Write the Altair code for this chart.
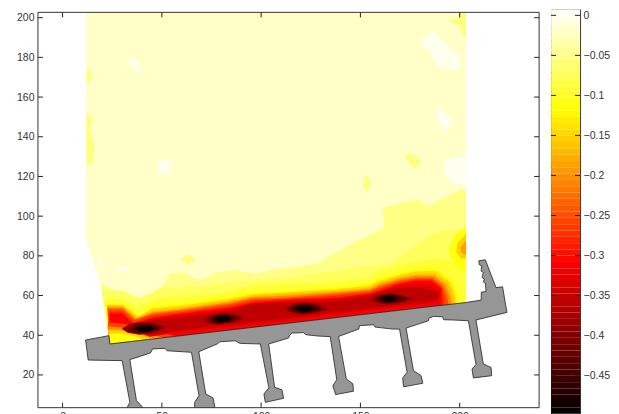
import altair as alt
import pandas as pd

# Contour regions, in plot units: (value, x list, y list), painted from back to front
field_x = [11.7, 11.7, 12.7, 15.2, 18.8, 23.4, 23.8, 203.2, 203.2]
field_y = [202.7, 90.0, 86.0, 77.5, 67.4, 39.8, 35.6, 56.5, 202.7]

w1_x = [32.7, 36.4, 40.5, 37.2, 34.7]
w1_y = [179.7, 179.7, 173.4, 172.1, 175.5]
w2_x = [48.1, 54.0, 54.0, 48.1]
w2_y = [128.1, 128.1, 121.4, 121.4]
w3_x = [179.7, 187.3, 194.8, 200.7, 199.8, 189.8, 183.9]
w3_y = [188.9, 193.1, 184.7, 180.5, 173.9, 174.7, 183.1]
w4_x = [187.3, 191.5, 196.8, 193.1, 189.8]
w4_y = [154.2, 153.7, 147.9, 142.5, 147.0]
w5_x = [191.8, 194.8, 203.2, 203.2, 196.5, 192.3]
w5_y = [127.8, 129.4, 130.3, 116.0, 116.3, 121.1]
w6_x = [26.8, 31.3, 34.7, 31.3, 27.2]
w6_y = [74.1, 74.9, 73.8, 72.4, 72.8]
w7_x = [18.8, 19.9, 20.1, 18.8]
w7_y = [78.3, 78.3, 72.8, 73.3]

y1_x = [12.4, 14.6, 14.9, 12.9, 12.1]
y1_y = [173.9, 173.0, 168.8, 167.1, 168.0]
y2_x = [12.1, 15.4, 13.7, 15.9, 15.4, 12.4, 12.1]
y2_y = [152.0, 148.7, 144.5, 136.1, 127.8, 125.2, 132.8]
y3_x = [172.2, 175.5, 180.6, 177.2]
y3_y = [130.3, 131.9, 127.8, 123.6]
y4_x = [152.1, 154.1, 155.1, 153.4, 151.6]
y4_y = [120.2, 120.2, 116.0, 111.3, 115.2]
y5_x = [59.0, 63.2, 67.4, 63.2]
y5_y = [78.3, 80.5, 78.3, 75.5]
y6_x = [193.9, 199.0, 200.7, 203.2, 203.2, 199.8]
y6_y = [199.0, 199.8, 202.7, 202.7, 188.1, 195.6]

l1_x = [19.1, 27.2, 42.3, 48.1, 54.0, 60.7, 69.1, 77.5, 87.5, 97.6, 109.3, 116.8, 128.4, 133.4, 148.5, 162.1, 161.3, 178.7, 183.7, 200.8, 203.2, 203.2, 23.8]
l1_y = [66.1, 62.4, 58.2, 61.5, 70.8, 71.6, 67.4, 71.6, 72.8, 70.8, 73.8, 74.1, 76.0, 79.1, 87.5, 94.2, 104.3, 108.5, 105.1, 113.5, 112.7, 56.5, 35.6]
l1b_x = [19.8, 30.3, 38.9, 48.9, 69.1, 94.2, 119.4, 144.5, 166.1, 173.7, 185.8, 195.8, 203.2, 203.2, 23.8]
l1b_y = [62.4, 62.4, 58.4, 63.4, 64.9, 67.4, 69.9, 73.5, 76.5, 82.5, 91.0, 93.6, 92.6, 56.5, 35.6]
l2_x = [21.3, 30.3, 37.9, 48.9, 59.0, 79.1, 95.7, 112.8, 129.4, 154.6, 159.6, 168.2, 179.7, 191.3, 197.3, 203.2, 203.2, 23.8]
l2_y = [58.4, 58.4, 53.8, 58.9, 59.9, 60.9, 64.9, 65.9, 66.4, 68.4, 72.4, 75.0, 77.5, 78.5, 76.5, 78.5, 56.5, 35.6]
h1_x = [203.2, 197.3, 194.3, 197.3, 203.2]
h1_y = [95.1, 90.0, 82.5, 75.0, 72.4]
h2_x = [203.2, 198.8, 198.3, 200.8, 203.2]
h2_y = [91.0, 86.5, 81.5, 78.5, 78.5]
h3_x = [203.2, 200.4, 200.8, 203.2]
h3_y = [87.5, 84.5, 81.5, 80.5]
l3_x = [22.3, 30.3, 38.9, 45.4, 59.0, 79.1, 95.7, 112.8, 138.0, 154.6, 159.6, 169.7, 178.2, 188.3, 196.3, 198.8, 199.8, 23.8]
l3_y = [55.9, 55.9, 49.8, 54.9, 55.9, 58.4, 61.4, 62.4, 63.9, 65.9, 68.4, 71.4, 73.4, 73.4, 67.4, 61.4, 56.1, 35.6]
l3b_x = [22.3, 30.3, 38.2, 45.4, 59.0, 81.6, 95.7, 112.8, 138.0, 154.6, 159.6, 169.7, 178.2, 187.8, 195.0, 197.6, 198.5, 23.8]
l3b_y = [55.4, 55.4, 49.3, 53.6, 54.9, 57.9, 60.7, 61.7, 63.2, 64.9, 67.4, 70.4, 72.2, 72.2, 66.9, 61.2, 56.0, 35.6]
l4_x = [22.3, 30.3, 37.4, 45.4, 59.0, 84.2, 95.7, 112.8, 138.0, 154.6, 159.6, 169.7, 178.2, 187.3, 193.8, 196.3, 197.3, 23.8]
l4_y = [54.8, 54.8, 48.8, 52.3, 53.8, 57.4, 59.9, 60.9, 62.4, 63.9, 66.4, 69.4, 70.9, 70.9, 66.4, 60.9, 55.8, 35.6]
l4b_x = [22.5, 30.3, 36.9, 45.4, 59.0, 84.2, 95.7, 112.8, 138.0, 154.6, 159.6, 169.7, 178.2, 186.8, 192.5, 195.0, 195.8, 23.8]
l4b_y = [54.0, 54.0, 48.3, 51.5, 53.0, 56.6, 59.1, 59.9, 61.6, 63.1, 65.4, 68.4, 69.9, 69.9, 65.6, 59.9, 55.6, 35.6]
l5_x = [22.8, 30.3, 36.4, 45.4, 59.0, 84.2, 95.7, 112.8, 138.0, 154.6, 159.6, 169.7, 178.2, 186.3, 191.3, 193.8, 194.3, 23.8]
l5_y = [53.3, 53.3, 47.8, 50.8, 52.3, 55.8, 58.4, 58.9, 60.9, 62.4, 64.4, 67.4, 68.9, 68.9, 64.9, 58.9, 55.5, 35.6]
l5b_x = [23.3, 30.3, 35.9, 45.4, 59.0, 84.2, 95.7, 112.8, 138.0, 154.6, 159.6, 169.7, 178.2, 186.0, 191.0, 192.3, 192.5, 23.8]
l5b_y = [52.0, 52.0, 46.8, 49.8, 51.5, 54.8, 57.4, 58.4, 59.9, 61.6, 63.4, 66.6, 68.1, 68.1, 64.1, 58.0, 55.3, 35.6]
l6_x = [23.8, 30.3, 35.4, 45.4, 59.0, 84.2, 95.7, 112.8, 138.0, 154.6, 159.6, 169.7, 178.2, 185.8, 190.8, 190.8, 23.8]
l6_y = [50.8, 50.8, 45.8, 48.8, 50.8, 53.8, 56.4, 57.9, 58.9, 60.9, 62.4, 65.9, 67.4, 67.4, 63.4, 55.1, 35.6]
c0_x = [22.8, 28.0, 36.0, 45.0, 58.0, 23.8]
c0_y = [46.5, 46.0, 45.0, 42.5, 39.2, 35.6]
c1_x = [22.5, 27.8, 36.4, 43.9, 51.5, 23.8]
c1_y = [44.5, 44.0, 43.0, 40.8, 38.5, 35.6]
c1b_x = [23.0, 28.0, 36.4, 43.0, 47.0, 23.8]
c1b_y = [42.6, 42.6, 41.2, 39.0, 38.2, 35.6]
c2_x = [23.3, 28.8, 36.4, 41.4, 23.8]
c2_y = [40.8, 41.0, 39.6, 37.4, 35.6]
l6b_x = [33.0, 43.9, 59.0, 84.2, 95.7, 112.8, 138.0, 154.6, 159.6, 169.7, 178.2, 186.0, 190.3, 189.0, 168.0, 139.5, 114.3, 89.2, 64.0, 43.9]
l6b_y = [43.5, 48.0, 49.8, 53.0, 56.1, 57.1, 58.1, 60.4, 61.9, 64.9, 65.6, 65.0, 61.5, 56.5, 53.8, 50.7, 47.7, 44.7, 42.2, 39.3]
l7_x = [35.4, 43.9, 59.0, 84.2, 95.7, 112.8, 138.0, 154.6, 159.6, 169.7, 178.2, 186.3, 189.8, 187.3, 166.1, 139.5, 114.3, 89.2, 64.0, 43.9]
l7_y = [42.3, 47.3, 48.8, 52.3, 55.8, 56.4, 57.4, 59.9, 61.4, 63.9, 63.9, 62.9, 59.9, 57.4, 54.9, 51.8, 48.8, 45.8, 43.3, 40.3]
b1_x = [29.8, 33.9, 40.4, 47.9, 52.0, 46.4, 38.9, 32.8]
b1_y = [43.3, 45.8, 46.8, 45.8, 43.8, 41.3, 40.3, 41.3]
b2_x = [71.1, 75.1, 81.6, 88.2, 91.2, 86.2, 79.1, 74.1]
b2_y = [47.8, 50.3, 51.3, 50.3, 48.3, 46.3, 45.3, 45.8]
b3_x = [111.8, 115.8, 121.9, 129.4, 134.4, 128.4, 120.9, 115.3]
b3_y = [53.3, 55.8, 56.9, 55.3, 53.3, 51.3, 50.3, 51.3]
b4_x = [154.6, 158.6, 164.6, 172.2, 177.2, 170.7, 163.6, 157.6]
b4_y = [57.9, 60.4, 61.4, 59.9, 58.4, 56.4, 55.3, 56.4]
m1_x = [33.5, 37.0, 41.0, 47.0, 50.0, 45.0, 39.0, 35.0]
m1_y = [43.3, 45.3, 45.8, 45.3, 43.6, 41.9, 41.0, 41.7]
m2_x = [73.5, 77.0, 82.0, 86.5, 89.0, 85.0, 79.0, 75.5]
m2_y = [48.2, 50.0, 50.5, 49.8, 48.3, 46.7, 45.9, 46.2]
m3_x = [114.0, 117.5, 122.5, 128.0, 131.0, 126.5, 120.5, 116.5]
m3_y = [53.3, 55.3, 55.8, 54.8, 53.3, 51.6, 51.0, 51.6]
m4_x = [157.5, 161.0, 165.5, 170.5, 174.0, 169.0, 163.0, 159.5]
m4_y = [58.2, 60.1, 60.6, 59.6, 58.4, 56.7, 56.0, 56.7]
k1_x = [36.4, 39.4, 43.9, 46.4, 43.9, 39.4]
k1_y = [43.3, 44.8, 44.8, 43.3, 41.8, 41.5]
k2_x = [75.6, 78.6, 83.1, 85.2, 83.1, 78.6]
k2_y = [48.3, 49.8, 49.8, 48.3, 46.8, 46.3]
k3_x = [116.3, 119.4, 124.4, 127.4, 123.4, 119.4]
k3_y = [53.3, 54.8, 54.8, 53.3, 51.8, 51.8]
k4_x = [160.1, 162.6, 166.6, 169.2, 166.1, 162.6]
k4_y = [58.4, 59.9, 59.9, 58.4, 56.9, 56.9]

regions = [
    (-0.02, field_x, field_y),
    (-0.001, w1_x, w1_y), (-0.001, w2_x, w2_y), (-0.001, w3_x, w3_y), (-0.001, w4_x, w4_y),
    (-0.001, w5_x, w5_y), (-0.001, w6_x, w6_y), (-0.001, w7_x, w7_y),
    (-0.055, y1_x, y1_y), (-0.055, y2_x, y2_y), (-0.055, y3_x, y3_y), (-0.055, y4_x, y4_y),
    (-0.055, y5_x, y5_y), (-0.055, y6_x, y6_y),
    (-0.052, l1_x, l1_y), (-0.072, l1b_x, l1b_y), (-0.092, l2_x, l2_y),
    (-0.11, h1_x, h1_y), (-0.15, h2_x, h2_y), (-0.19, h3_x, h3_y),
    (-0.117, l3_x, l3_y), (-0.145, l3b_x, l3b_y), (-0.17, l4_x, l4_y), (-0.21, l4b_x, l4b_y),
    (-0.25, l5_x, l5_y), (-0.28, l5b_x, l5b_y), (-0.31, l6_x, l6_y),
    (-0.26, c0_x, c0_y), (-0.2, c1_x, c1_y), (-0.15, c1b_x, c1b_y), (-0.11, c2_x, c2_y),
    (-0.33, l6b_x, l6b_y), (-0.355, l7_x, l7_y),
    (-0.395, b1_x, b1_y), (-0.395, b2_x, b2_y), (-0.395, b3_x, b3_y), (-0.395, b4_x, b4_y),
    (-0.435, m1_x, m1_y), (-0.435, m2_x, m2_y), (-0.435, m3_x, m3_y), (-0.435, m4_x, m4_y),
    (-0.49, k1_x, k1_y), (-0.49, k2_x, k2_y), (-0.49, k3_x, k3_y), (-0.49, k4_x, k4_y),
]

bridge_x = [11.6, 23.4, 23.8, 203.2, 210.8, 210.9, 213.3, 212.9, 211.9, 212.4, 211.3, 211.9, 210.8, 211.1, 209.9, 209.6, 212.9, 218.3, 221.6, 223.8,
            208.2, 211.9, 215.8, 216.1, 206.9, 206.2, 208.2, 204.4, 196.5, 192.0, 191.4, 186.8, 184.4, 184.3,
            173.0, 176.7, 180.6, 181.4, 171.7, 171.3, 173.5, 169.7, 166.3, 157.4, 156.6, 149.5, 149.2,
            139.0, 142.9, 146.2, 146.5, 137.5, 136.1, 138.1, 134.8, 128.6, 122.4, 121.4, 115.7, 114.3, 113.8,
            103.8, 106.8, 110.5, 111.3, 102.1, 101.4, 103.9, 99.6, 89.2, 87.0, 79.1, 78.1,
            68.6, 72.1, 75.8, 76.6, 76.6, 66.5, 66.5, 68.7, 64.9, 52.6, 51.5, 45.3, 44.3,
            33.9, 37.2, 41.9, 31.7, 33.9, 30.0, 12.9, 11.6]
bridge_y = [37.6, 39.8, 35.6, 56.5, 57.7, 61.7, 62.0, 66.3, 66.9, 68.3, 69.1, 71.6, 72.4, 75.0, 75.5, 77.5, 78.0, 64.0, 64.4, 51.5,
            47.7, 25.5, 23.8, 19.6, 18.5, 23.0, 25.2, 47.3, 47.7, 47.8, 49.3, 49.5, 48.5, 47.3,
            43.6, 22.2, 19.6, 15.8, 14.0, 18.5, 21.3, 43.1, 43.1, 44.1, 45.3, 44.8, 43.1,
            39.4, 18.0, 15.5, 11.8, 10.1, 14.6, 17.6, 39.3, 39.6, 40.3, 41.3, 41.1, 39.9, 38.6,
            35.6, 13.8, 12.5, 8.2, 6.2, 10.4, 13.5, 35.6, 35.9, 37.2, 36.7, 35.7,
            31.7, 10.4, 8.4, 4.2, 2.0, 2.0, 6.2, 9.6, 31.4, 32.2, 33.4, 33.1, 31.1,
            27.7, 7.1, 2.0, 2.0, 6.2, 27.2, 27.5, 37.6]

x_ticks = [0, 50, 100, 150, 200]
y_ticks = [20, 40, 60, 80, 100, 120, 140, 160, 180, 200]
bar_ticks = [0, -0.05, -0.1, -0.15, -0.2, -0.25, -0.3, -0.35, -0.4, -0.45]
bar_edges = [-0.4975, -0.4896, -0.4817, -0.4738, -0.4659, -0.4581, -0.4502, -0.4423, -0.4344, -0.4265, -0.4186,
             -0.4107, -0.4028, -0.3949, -0.3870, -0.3791, -0.3713, -0.3634, -0.3555, -0.3476, -0.3397, -0.3318,
             -0.3239, -0.3160, -0.3081, -0.3002, -0.2923, -0.2845, -0.2766, -0.2687, -0.2608, -0.2529, -0.2450,
             -0.2371, -0.2292, -0.2213, -0.2134, -0.2055, -0.1977, -0.1898, -0.1819, -0.1740, -0.1661, -0.1582,
             -0.1503, -0.1424, -0.1345, -0.1266, -0.1187, -0.1109, -0.1030, -0.0951, -0.0872, -0.0793, -0.0714,
             -0.0635, -0.0556, -0.0477, -0.0398, -0.0319, -0.0241, -0.0162, -0.0083, -0.0004, 0.0075]

FONT = "Liberation Sans"
INK = "#333333"
FRAME = "#333333"
PW, PH = 502, 399
TOP = 3
xdom = [-12.4, 240.0]
ydom = [3.5, 204.2]

rows = []
for n, (val, xs, ys) in enumerate(regions):
    for i, (a, b) in enumerate(zip(xs, ys)):
        rows.append({"id": n, "i": i, "x": a, "y": b, "v": val})
contours = pd.DataFrame(rows)
bridge = pd.DataFrame({"i": range(len(bridge_x)), "x": bridge_x, "y": bridge_y})

heat = alt.Scale(domain=[-0.4975, -0.3075, -0.1175, 0.0075], range=["#000000", "#ff0000", "#ffff00", "#ffffff"],
                 interpolate="rgb", clamp=True)
X = alt.X("x:Q", scale=alt.Scale(domain=xdom, nice=False, zero=False),
          axis=alt.Axis(values=x_ticks, title=None, grid=False, ticks=False, domain=False, labelPadding=4,
                        labelFont=FONT, labelFontSize=10.5, labelColor=INK, labelFlush=False))
Y = alt.Y("y:Q", scale=alt.Scale(domain=ydom, nice=False, zero=False),
          axis=alt.Axis(values=y_ticks, title=None, grid=False, ticks=False, domain=False, labelPadding=4,
                        labelFont=FONT, labelFontSize=10.5, labelColor=INK, labelFlush=False))

fills = alt.Chart(contours).mark_line(strokeWidth=0, clip=True, interpolate="linear").encode(
    x=X, y=Y, order=alt.Order("i:Q"), detail="id:N",
    fill=alt.Fill("v:Q", scale=heat, legend=None))
deck = alt.Chart(bridge).mark_line(fill="#969696", stroke="#222222", strokeWidth=0.8, clip=True).encode(
    x=alt.X("x:Q"), y=alt.Y("y:Q"), order=alt.Order("i:Q"))

ydf = pd.DataFrame({"y": y_ticks})
xdf = pd.DataFrame({"x": x_ticks})
tick = dict(color="#222222", strokeWidth=1)
yl = alt.Chart(ydf).mark_rule(**tick).encode(y=alt.Y("y:Q"), x=alt.value(0), x2=alt.value(5))
yr = alt.Chart(ydf).mark_rule(**tick).encode(y=alt.Y("y:Q"), x=alt.value(PW - 5), x2=alt.value(PW))
xb = alt.Chart(xdf).mark_rule(**tick).encode(x=alt.X("x:Q"), y=alt.value(PH - 5), y2=alt.value(PH))
xt = alt.Chart(xdf).mark_rule(**tick).encode(x=alt.X("x:Q"), y=alt.value(TOP), y2=alt.value(TOP + 5))
edge = dict(color=FRAME, strokeWidth=1)
f_l = alt.Chart(ydf.head(1)).mark_rule(**edge).encode(x=alt.value(0), y=alt.value(TOP), y2=alt.value(PH))
f_r = alt.Chart(ydf.head(1)).mark_rule(**edge).encode(x=alt.value(PW), y=alt.value(TOP), y2=alt.value(PH))
f_t = alt.Chart(ydf.head(1)).mark_rule(**edge).encode(y=alt.value(TOP), x=alt.value(0), x2=alt.value(PW))
f_b = alt.Chart(ydf.head(1)).mark_rule(**edge).encode(y=alt.value(PH), x=alt.value(0), x2=alt.value(PW))

main = alt.layer(fills, deck, yl, yr, xb, xt, f_l, f_r, f_t, f_b).properties(
    width=PW, height=PH, view=alt.ViewConfig(stroke="transparent"),
)

bar = pd.DataFrame({"lo": bar_edges[:-1], "hi": bar_edges[1:]})
bar["mid"] = (bar["lo"] + bar["hi"]) / 2
BH = 405
bdom = [-0.4975, 0.0075]
BY = alt.Y("lo:Q", scale=alt.Scale(domain=bdom, nice=False, zero=False),
           axis=alt.Axis(values=bar_ticks, orient="right", title=None, grid=False, ticks=False, domain=False,
                         labelPadding=3, labelFont=FONT, labelFontSize=10.5, labelColor=INK, labelFlush=False,
                         labelExpr="datum.value === 0 ? '0' : format(datum.value, '.2~f')"))
ramp = alt.Chart(bar).mark_rect().encode(
    y=BY, y2="hi:Q", x=alt.value(0), x2=alt.value(29),
    color=alt.Color("mid:Q", scale=heat, legend=None))
bdf = pd.DataFrame({"lo": bar_ticks})
bl = alt.Chart(bdf).mark_rule(**tick).encode(y=alt.Y("lo:Q"), x=alt.value(0), x2=alt.value(5))
br = alt.Chart(bdf).mark_rule(**tick).encode(y=alt.Y("lo:Q"), x=alt.value(24), x2=alt.value(29))
colorbar = alt.layer(ramp, bl, br).properties(
    width=29, height=BH, view=alt.ViewConfig(stroke=FRAME, strokeWidth=1))

chart = alt.hconcat(main, colorbar, spacing=10).properties(
    padding={"left": 7, "top": 0, "right": 0, "bottom": 0},
    background="white",
)

chart.save("out.html", embed_options={"renderer": "svg", "actions": False})
